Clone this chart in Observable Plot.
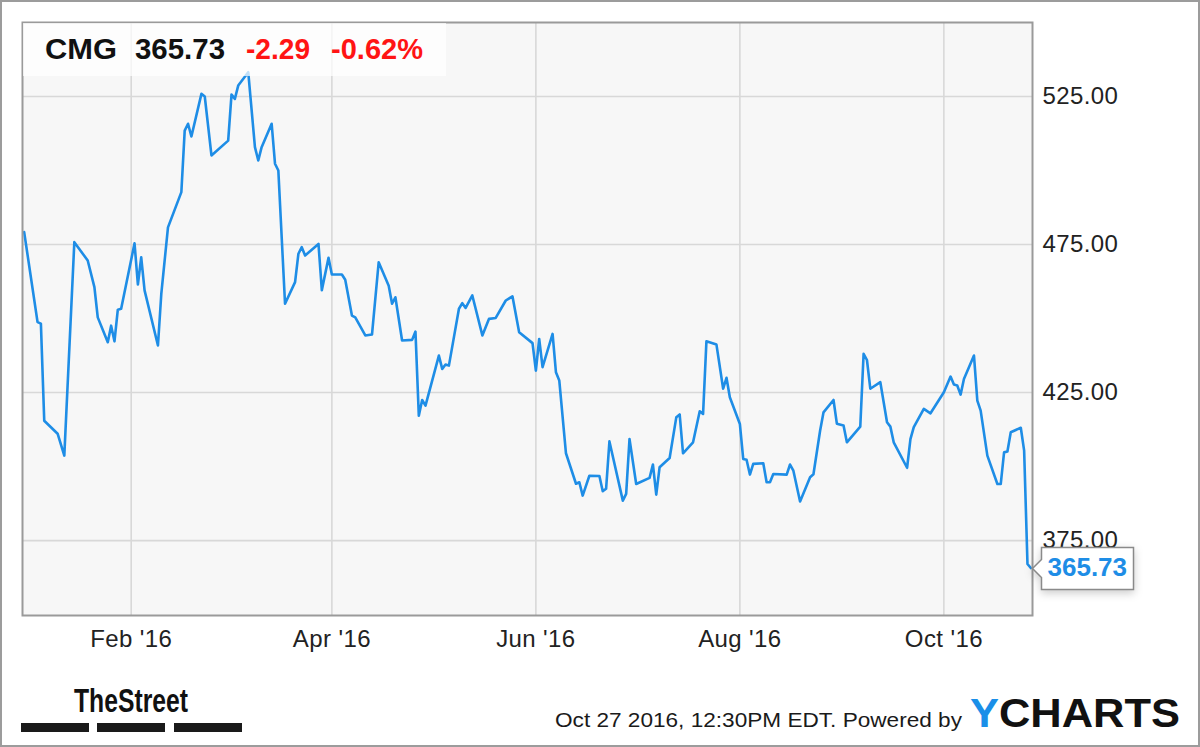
<!DOCTYPE html>
<html>
<head>
<meta charset="utf-8">
<script src="https://cdn.jsdelivr.net/npm/d3@7"></script>
<script src="https://cdn.jsdelivr.net/npm/@observablehq/plot@0.6"></script>
<style>
html, body { margin: 0; padding: 0; background: #fff; }
#wrap { position: relative; width: 1200px; height: 747px; overflow: hidden; font-family: "Liberation Sans", Arial, sans-serif; }
#chart { position: absolute; left: 0; top: 0; }
#overlay { position: absolute; left: 0; top: 0; pointer-events: none; }
#border { position: absolute; left: 0; top: 0; width: 1200px; height: 747px; box-sizing: border-box; border: 2px solid #9c9c9c; pointer-events: none; }
</style>
</head>
<body>
<div id="wrap">
  <div id="chart"></div>
  <svg id="overlay" width="1200" height="747" font-size="20"></svg>
  <div id="border"></div>
</div>
<script>
// ---------------- data ----------------
const ticker = "CMG";
const lastPrice = 365.73;
const change = -2.29;
const changePct = -0.62;
const stamp = "Oct 27 2016, 12:30PM EDT.";

const dates = [
  "2015-12-31","2016-01-04","2016-01-05","2016-01-06","2016-01-08","2016-01-10","2016-01-12","2016-01-15",
  "2016-01-19","2016-01-21","2016-01-22","2016-01-25","2016-01-26","2016-01-27","2016-01-28","2016-01-29",
  "2016-02-02","2016-02-03","2016-02-04","2016-02-05","2016-02-09","2016-02-10","2016-02-12","2016-02-16",
  "2016-02-17","2016-02-18","2016-02-19","2016-02-22","2016-02-23","2016-02-25","2016-03-01","2016-03-02",
  "2016-03-03","2016-03-04","2016-03-07","2016-03-09","2016-03-10","2016-03-11","2016-03-14","2016-03-15",
  "2016-03-16","2016-03-18","2016-03-21","2016-03-22","2016-03-23","2016-03-24","2016-03-28","2016-03-29",
  "2016-03-31","2016-04-01","2016-04-04","2016-04-05","2016-04-07","2016-04-08","2016-04-11","2016-04-13",
  "2016-04-15","2016-04-18","2016-04-19","2016-04-20","2016-04-22","2016-04-25","2016-04-26","2016-04-27",
  "2016-04-28","2016-04-29","2016-05-03","2016-05-04","2016-05-05","2016-05-06","2016-05-09","2016-05-10",
  "2016-05-11","2016-05-13","2016-05-16","2016-05-18","2016-05-20","2016-05-23","2016-05-25","2016-05-27",
  "2016-05-31","2016-06-01","2016-06-02","2016-06-03","2016-06-06","2016-06-07","2016-06-08","2016-06-10",
  "2016-06-13","2016-06-14","2016-06-15","2016-06-17","2016-06-20","2016-06-21","2016-06-22","2016-06-23",
  "2016-06-27","2016-06-28","2016-06-29","2016-07-01","2016-07-05","2016-07-06","2016-07-07","2016-07-08",
  "2016-07-11","2016-07-13","2016-07-14","2016-07-15","2016-07-18","2016-07-20","2016-07-21","2016-07-22",
  "2016-07-25","2016-07-27","2016-07-28","2016-07-29","2016-08-01","2016-08-02","2016-08-03","2016-08-04",
  "2016-08-05","2016-08-08","2016-08-09","2016-08-10","2016-08-11","2016-08-15","2016-08-16","2016-08-17",
  "2016-08-19","2016-08-22","2016-08-23","2016-08-25","2016-08-26","2016-08-29","2016-08-30","2016-09-01",
  "2016-09-02","2016-09-06","2016-09-07","2016-09-08","2016-09-09","2016-09-12","2016-09-14","2016-09-15",
  "2016-09-16","2016-09-20","2016-09-21","2016-09-22","2016-09-25","2016-09-27","2016-10-01","2016-10-03",
  "2016-10-04","2016-10-05","2016-10-06","2016-10-07","2016-10-10","2016-10-11","2016-10-12","2016-10-14",
  "2016-10-17","2016-10-18","2016-10-19","2016-10-20","2016-10-21","2016-10-24","2016-10-25","2016-10-26",
  "2016-10-27"
];
const prices = [
  479.2,448.8,448.3,415.5,413.3,411.1,403.7,475.8,
  469.6,460.6,450.4,442.0,447.6,442.3,453.0,453.3,
  475.4,461.5,470.7,459.5,440.9,458.3,480.8,492.7,
  513.5,515.8,511.5,525.9,525.0,505.1,510.1,525.7,
  524.2,528.7,533.2,507.9,503.4,507.9,515.8,502.3,
  500.0,455.0,462.3,471.9,474.1,471.3,475.2,459.6,
  470.5,464.9,464.9,463.1,451.0,450.4,444.3,444.6,
  469.0,461.1,455.0,457.2,442.6,442.8,445.6,417.2,
  422.5,420.6,437.5,433.0,434.5,434.1,453.3,455.2,
  453.6,457.8,444.3,449.9,450.2,456.1,457.5,445.4,
  441.7,432.4,443.1,433.6,444.8,431.9,429.1,404.5,
  394.2,394.7,390.2,396.9,396.8,391.7,392.5,408.5,
  388.5,390.8,409.3,394.1,396.2,400.7,390.5,399.8,
  402.9,416.7,417.6,404.5,408.2,418.7,417.8,442.3,
  441.2,426.3,430.0,423.4,414.4,402.6,402.3,397.3,
  400.9,401.1,394.7,394.7,397.5,397.3,400.7,398.6,
  388.2,396.4,397.4,412.2,418.3,422.5,414.5,413.9,
  408.2,413.5,438.1,436.0,426.3,428.5,415.0,413.5,
  408.2,399.6,409.3,413.3,419.5,418.0,425.1,430.4,
  427.7,427.4,424.3,429.6,437.5,422.3,418.9,403.7,
  394.1,394.1,404.8,405.1,411.6,413.1,405.4,367.1,
  365.73
];
const yTicks = [375, 425, 475, 525];
const xTicks = ["2016-02-01", "2016-04-01", "2016-06-01", "2016-08-01", "2016-10-01"];
const xDomain = ["2015-12-30T12:00Z", "2016-10-27T12:00Z"];
const yDomain = [349.7, 550];

// ---------------- chart ----------------
const data = dates.map((d, i) => ({date: new Date(d + "T00:00Z"), price: prices[i]}));
const last = data[data.length - 1];
const blue = "#1e8de6";
const FONT = "'Liberation Sans', Arial, sans-serif";

const chart = Plot.plot({
  width: 1200,
  height: 747,
  marginLeft: 22,
  marginRight: 168,
  marginTop: 22,
  marginBottom: 132,
  style: {background: "transparent", fontFamily: FONT, fontSize: "20px", overflow: "visible"},
  x: {type: "utc", domain: xDomain.map(d => new Date(d))},
  y: {domain: yDomain},
  marks: [
    Plot.frame({fill: "#f7f7f7"}),
    Plot.ruleY(yTicks, {stroke: "#d8d8d8", strokeWidth: 1.6}),
    Plot.ruleX(xTicks.map(d => new Date(d + "T00:00Z")), {stroke: "#d8d8d8", strokeWidth: 1.6}),
    Plot.line(data, {x: "date", y: "price", stroke: blue, strokeWidth: 2.6}),
    Plot.frame({stroke: "#9a9a9a", strokeWidth: 2}),
    Plot.axisY({anchor: "right", ticks: yTicks, tickSize: 0, tickPadding: 10,
      tickFormat: d => d.toFixed(2), fontSize: 24, color: "#222", label: null}),
    Plot.axisX({ticks: xTicks.map(d => new Date(d + "T00:00Z")), tickSize: 0, tickPadding: 14,
      tickFormat: d3.utcFormat("%b '%y"), fontSize: 24, color: "#222", label: null}),
    Plot.tip([last], {x: "date", y: "price", title: d => d.price.toFixed(2), anchor: "left",
      fontSize: 26, fontWeight: "bold", fill: "white", stroke: "#8a8a8a", strokeWidth: 1.5,
      pointerSize: 18, textPadding: 6, dx: 2})
  ]
});
document.getElementById("chart").appendChild(chart);
// color the tip text blue
chart.querySelectorAll("g[aria-label='tip'] text").forEach(t => { t.setAttribute("fill", blue); t.style.fill = blue; t.setAttribute("font-size", 26); });
chart.querySelectorAll("g[aria-label='y-axis tick label'] text, g[aria-label='x-axis tick label'] text").forEach(t => t.style.letterSpacing = "0.4px");

// ---------------- overlay: header, footer ----------------
const ov = d3.select("#overlay");
ov.append("rect").attr("x", 23).attr("y", 23).attr("width", 423).attr("height", 53)
  .attr("fill", "white").attr("fill-opacity", 0.72);

function txt(s, x, y, size, opts = {}) {
  const t = ov.append("text").attr("x", x).attr("y", y).text(s)
    .attr("font-family", opts.family || FONT)
    .attr("font-size", size)
    .attr("font-weight", opts.weight || "normal")
    .attr("fill", opts.fill || "#111");
  if (opts.len) t.attr("textLength", opts.len).attr("lengthAdjust", "spacingAndGlyphs");
  return t;
}
txt(ticker, 45, 59, 29, {weight: "bold", len: 72});
txt(lastPrice.toFixed(2), 135, 59, 29, {weight: "bold", len: 90});
txt(change.toFixed(2), 246, 59, 29, {weight: "bold", fill: "#ff1414", len: 64});
txt(changePct.toFixed(2) + "%", 331, 59, 29, {weight: "bold", fill: "#ff1414", len: 92});

// TheStreet logo
txt("TheStreet", 74, 712, 34, {weight: "bold", family: "'Liberation Sans Narrow', 'Liberation Sans', Arial", len: 114, fill: "#111"});
[[21, 68], [97, 68], [174, 68]].forEach(([x, w]) =>
  ov.append("rect").attr("x", x).attr("y", 723).attr("width", w).attr("height", 9).attr("fill", "#1a1a1a"));

// timestamp + YCHARTS
txt(stamp + " Powered by", 555, 727, 21, {len: 407, fill: "#1a1a1a"});
const yc = ov.append("text").attr("x", 970).attr("y", 727).attr("font-family", FONT)
  .attr("font-size", 41).attr("font-weight", "bold").attr("textLength", 210).attr("lengthAdjust", "spacingAndGlyphs");
yc.append("tspan").attr("fill", "#1a8fe8").attr("font-size", 41).text("Y");
yc.append("tspan").attr("fill", "#111").attr("font-size", 41).text("CHARTS");
</script>
</body>
</html>
